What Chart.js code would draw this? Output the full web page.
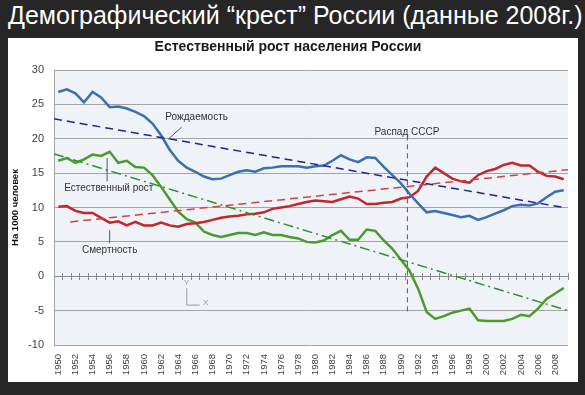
<!DOCTYPE html>
<html><head><meta charset="utf-8">
<script src="https://cdn.jsdelivr.net/npm/chart.js@4"></script>
<style>
html,body{margin:0;padding:0;background:#262626;width:585px;height:395px;overflow:hidden}
#t{position:absolute;left:8px;top:1px;font:25px "Liberation Sans",Arial,sans-serif;color:#fff;white-space:nowrap}
#p{position:absolute;left:8px;top:38px;width:570px;height:344px;background:#fff}
canvas{display:block}
</style></head><body>
<div id="t">Демографический “крест” России (данные 2008г.)</div>
<div id="p"><canvas id="c" width="570" height="344"></canvas></div>
<script>
const innerTitle = 'Естественный рост населения России';
const axisTitle = 'На 1000 человек';
const years = [1950,1951,1952,1953,1954,1955,1956,1957,1958,1959,1960,1961,1962,1963,1964,1965,1966,1967,1968,1969,
  1970,1971,1972,1973,1974,1975,1976,1977,1978,1979,1980,1981,1982,1983,1984,1985,1986,1987,1988,1989,
  1990,1991,1992,1993,1994,1995,1996,1997,1998,1999,2000,2001,2002,2003,2004,2005,2006,2007,2008,2009];
const tickYears = [1950,1952,1954,1956,1958,1960,1962,1964,1966,1968,1970,1972,1974,1976,1978,1980,1982,1984,1986,1988,
  1990,1992,1994,1996,1998,2000,2002,2004,2006,2008];
const yTicks = [-10,-5,0,5,10,15,20,25,30];
const births = [26.8,27.2,26.6,25.3,26.8,26.0,24.6,24.7,24.4,23.9,23.3,22.2,20.5,18.4,16.8,15.8,15.2,14.5,14.1,14.2,
  14.7,15.2,15.4,15.2,15.7,15.8,16.0,16.0,16.0,15.8,16.0,16.1,16.8,17.6,17.0,16.6,17.3,17.2,15.9,14.7,
  13.5,12.0,10.6,9.3,9.5,9.2,8.9,8.6,8.8,8.2,8.6,9.1,9.6,10.2,10.4,10.3,10.6,11.5,12.3,12.5];
const deaths = [10.1,10.2,9.5,9.2,9.2,8.5,7.8,8.0,7.4,7.9,7.4,7.4,7.8,7.4,7.2,7.6,7.7,7.9,8.2,8.5,
  8.7,8.8,9.0,9.1,9.3,9.8,10.0,10.2,10.5,10.8,11.0,10.9,10.8,11.2,11.6,11.3,10.5,10.5,10.7,10.8,
  11.3,11.5,12.4,14.5,15.8,15.0,14.2,13.8,13.6,14.7,15.3,15.6,16.2,16.5,16.1,16.1,15.2,14.6,14.5,14.1];
const growth = [16.8,17.2,16.5,17.0,17.7,17.5,18.1,16.5,16.8,15.9,15.8,14.7,13.0,11.2,9.4,8.3,7.8,6.5,6.0,5.7,
  6.0,6.3,6.3,6.0,6.4,6.0,6.0,5.7,5.5,5.0,4.9,5.2,6.0,6.6,5.3,5.3,6.8,6.6,5.2,4.0,
  2.4,0.8,-1.8,-5.2,-6.2,-5.8,-5.3,-5.0,-4.7,-6.4,-6.5,-6.5,-6.5,-6.2,-5.6,-5.8,-4.7,-3.3,-2.5,-1.7];
// trend lines: [year, value] endpoints
const birthsTrend = [[1949.5,22.9],[2009,10.0]];
const deathsTrend = [[1951.4,7.9],[2009.5,15.5]];
const growthTrend = [[1949.5,17.8],[2009.5,-5.0]];
const ussrLine = [[1990.75,20.5],[1990.75,-5.2]];
const notes = [
  {text:'Рождаемость', x:1962.5, y:23.2, align:'left'},
  {text:'Естественный рост', x:1955.9, y:12.75, align:'center'},
  {text:'Смертность', x:1956.0, y:3.8, align:'center'},
  {text:'Распад СССР', x:1990.7, y:20.95, align:'center'}
];
const leaders = [[1964.4,21.7,1962.8,19.9],[1955.7,17.2,1955.7,13.8],[1956.0,6.7,1956.0,4.8]];

Chart.defaults.font.family = '"Liberation Sans", Arial, sans-serif';
const pts = (xs, ys) => xs.map((x,i)=>({x:x, y:ys[i]}));
const pairs = arr => arr.map(p=>({x:p[0], y:p[1]}));
const edges = [1949.5].concat(years.map(y=>y+0.5));

const bg = {
  id:'bg',
  beforeDraw(c){
    const a = c.chartArea, ctx = c.ctx;
    ctx.save(); ctx.fillStyle = '#eff2f7';
    ctx.fillRect(a.left, a.top, a.right-a.left, a.bottom-a.top);
    ctx.restore();
  }
};
const anno = {
  id:'anno',
  afterDatasetsDraw(c){
    const ctx = c.ctx, xs = c.scales.x, ys = c.scales.y;
    ctx.save();
    ctx.strokeStyle = '#555'; ctx.lineWidth = 1;
    leaders.forEach(l=>{
      ctx.beginPath();
      ctx.moveTo(xs.getPixelForValue(l[0]), ys.getPixelForValue(l[1]));
      ctx.lineTo(xs.getPixelForValue(l[2]), ys.getPixelForValue(l[3]));
      ctx.stroke();
    });
    ctx.fillStyle = '#333'; ctx.font = '10px "Liberation Sans", Arial, sans-serif';
    ctx.textBaseline = 'middle';
    notes.forEach(n=>{
      ctx.textAlign = n.align;
      ctx.fillText(n.text, xs.getPixelForValue(n.x), ys.getPixelForValue(n.y));
    });
    // small Y/X glyph
    ctx.strokeStyle = '#999'; ctx.fillStyle = '#999'; ctx.font = '8px "Liberation Sans", Arial, sans-serif';
    ctx.textAlign = 'center';
    ctx.fillText('Y', xs.getPixelForValue(1965.0), ys.getPixelForValue(-1.0));
    ctx.fillText('X', xs.getPixelForValue(1967.2), ys.getPixelForValue(-3.9));
    ctx.beginPath();
    ctx.moveTo(xs.getPixelForValue(1965.0), ys.getPixelForValue(-1.75));
    ctx.lineTo(xs.getPixelForValue(1965.0), ys.getPixelForValue(-4.2));
    ctx.lineTo(xs.getPixelForValue(1966.5), ys.getPixelForValue(-4.2));
    ctx.stroke();
    ctx.restore();
  }
};
const line = (data, color, w, dash) => ({data, borderColor:color, borderWidth:w, borderDash:dash||[], pointRadius:0, tension:0, fill:false});

new Chart(document.getElementById('c'), {
  type:'line',
  data:{datasets:[
    line(pairs(birthsTrend), '#22229a', 1.5, [8,5]),
    line(pairs(deathsTrend), '#cc4444', 1.5, [8,5]),
    line(pairs(growthTrend), '#2f8f2f', 1.5, [10,4,2,4]),
    line(pairs(ussrLine), '#555555', 1, [5,4]),
    line(pts(years, births), '#3d6fae', 2.5),
    line(pts(years, deaths), '#c2262e', 2.5),
    line(pts(years, growth), '#4c9a2e', 2.5)
  ]},
  options:{
    responsive:false, animation:false, events:[],
    layout:{padding:{left:0,right:10,top:0,bottom:0}},
    plugins:{
      legend:{display:false}, tooltip:{enabled:false},
      title:{display:true, text:innerTitle, color:'#1a1a1a', font:{size:14, weight:'bold', lineHeight:1.2}, padding:{top:1,bottom:14.2}}
    },
    scales:{
      x:{type:'linear', position:'bottom', min:1949.5, max:2009.5,
        afterBuildTicks:s=>{s.ticks = tickYears.map(v=>({value:v}));},
        ticks:{minRotation:90, maxRotation:90, autoSkip:false, padding:9, font:{size:9.5}, color:'#404040', callback:v=>String(v)},
        grid:{display:false, drawTicks:false}, border:{display:false},
        afterFit:s=>{s.height=37;}},
      x2:{type:'linear', position:{y:0}, min:1949.5, max:2009.5,
        afterBuildTicks:s=>{s.ticks = edges.map(v=>({value:v}));},
        ticks:{display:false}, grid:{drawOnChartArea:false, drawTicks:true, tickLength:3, color:'#8a8a8a'},
        border:{display:true, color:'#8a8a8a'}},
      x3:{type:'linear', position:{y:0}, min:1949.5, max:2009.5,
        afterBuildTicks:s=>{s.ticks = edges.map(v=>({value:v}));},
        ticks:{display:false}, grid:{drawOnChartArea:false, drawTicks:true, tickLength:-3, color:'#8a8a8a'},
        border:{display:false}},
      y:{min:-10, max:30,
        afterBuildTicks:s=>{s.ticks = yTicks.map(v=>({value:v}));},
        ticks:{padding:10, font:{size:11}, color:'#404040'},
        grid:{color:'#a3a3a3', drawTicks:false}, border:{display:true, color:'#a3a3a3'},
        title:{display:true, text:axisTitle, color:'#111', font:{size:9.5, weight:'bold'}, padding:{top:2,bottom:0}},
        afterFit:s=>{s.width=46;}}
    }
  },
  plugins:[bg, anno]
});
</script>
</body></html>
